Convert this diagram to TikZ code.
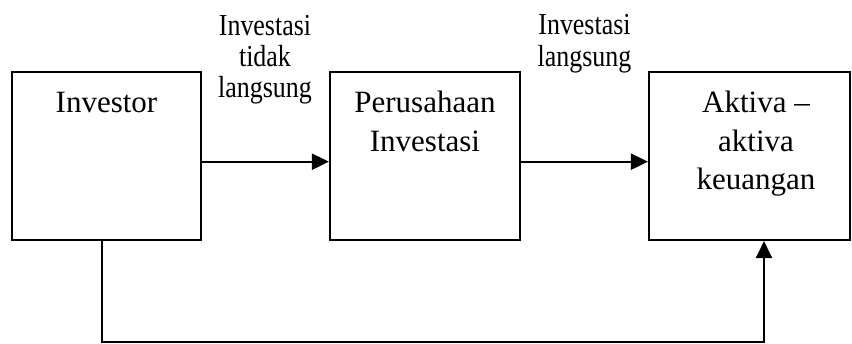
\documentclass[tikz,border=0pt]{standalone}
\usepackage{fontspec}
\setmainfont{Liberation Serif}
\usetikzlibrary{arrows.meta}
\tikzset{
  box/.style={draw, line width=2.1pt, inner sep=0pt, fill=white},
  boxtext/.style={inner sep=0pt, align=center, font=\fontsize{31}{38.5}\selectfont},
  lbltext/.style={inner sep=0pt, font=\fontsize{30.5}{31}\selectfont},
  conn/.style={line width=2.1pt, -{Triangle[length=17pt,width=16pt]}},
}
\newcommand{\narrowlines}[1]{\scalebox{0.85}[1]{\begin{tabular}{@{}c@{}}#1\end{tabular}}}
\begin{document}
\begin{tikzpicture}[x=1pt,y=-1pt]
\useasboundingbox[fill=white] (0,0) rectangle (852,343);
% boxes
\node[box, minimum width=189pt, minimum height=168pt] (inv) at (106.5,156) {};
\node[box, minimum width=190pt, minimum height=168pt] (per) at (425,156) {};
\node[box, minimum width=201pt, minimum height=168pt] (akt) at (749.5,156) {};
% box texts
\node[boxtext, anchor=base] (tinv) at (106.5,112) {Investor};
\node[boxtext, anchor=north] (tper) at (425,91) {Perusahaan\\Investasi};
\node[boxtext, anchor=north] (takt) at (756,91) {Aktiva --\\aktiva\\keuangan};
% connector labels
\node[lbltext, anchor=north] (l1) at (265,13.3) {\narrowlines{Investasi\\tidak\\langsung}};
\node[lbltext, anchor=north, font=\fontsize{30.5}{32}\selectfont] (l2) at (584.5,11.6) {\narrowlines{Investasi\\langsung}};
% connectors
\draw[conn] ([yshift=-5.7pt]inv.east) -- ([yshift=-5.7pt]per.west);
\draw[conn] ([yshift=-5.7pt]per.east) -- ([yshift=-5.7pt]akt.west);
\coordinate (s1) at ([xshift=-4.5pt]inv.south);
\coordinate (s2) at ([xshift=14.5pt]akt.south);
\draw[conn] (s1) -- ++(0,101) -| (s2);
\end{tikzpicture}
\end{document}
